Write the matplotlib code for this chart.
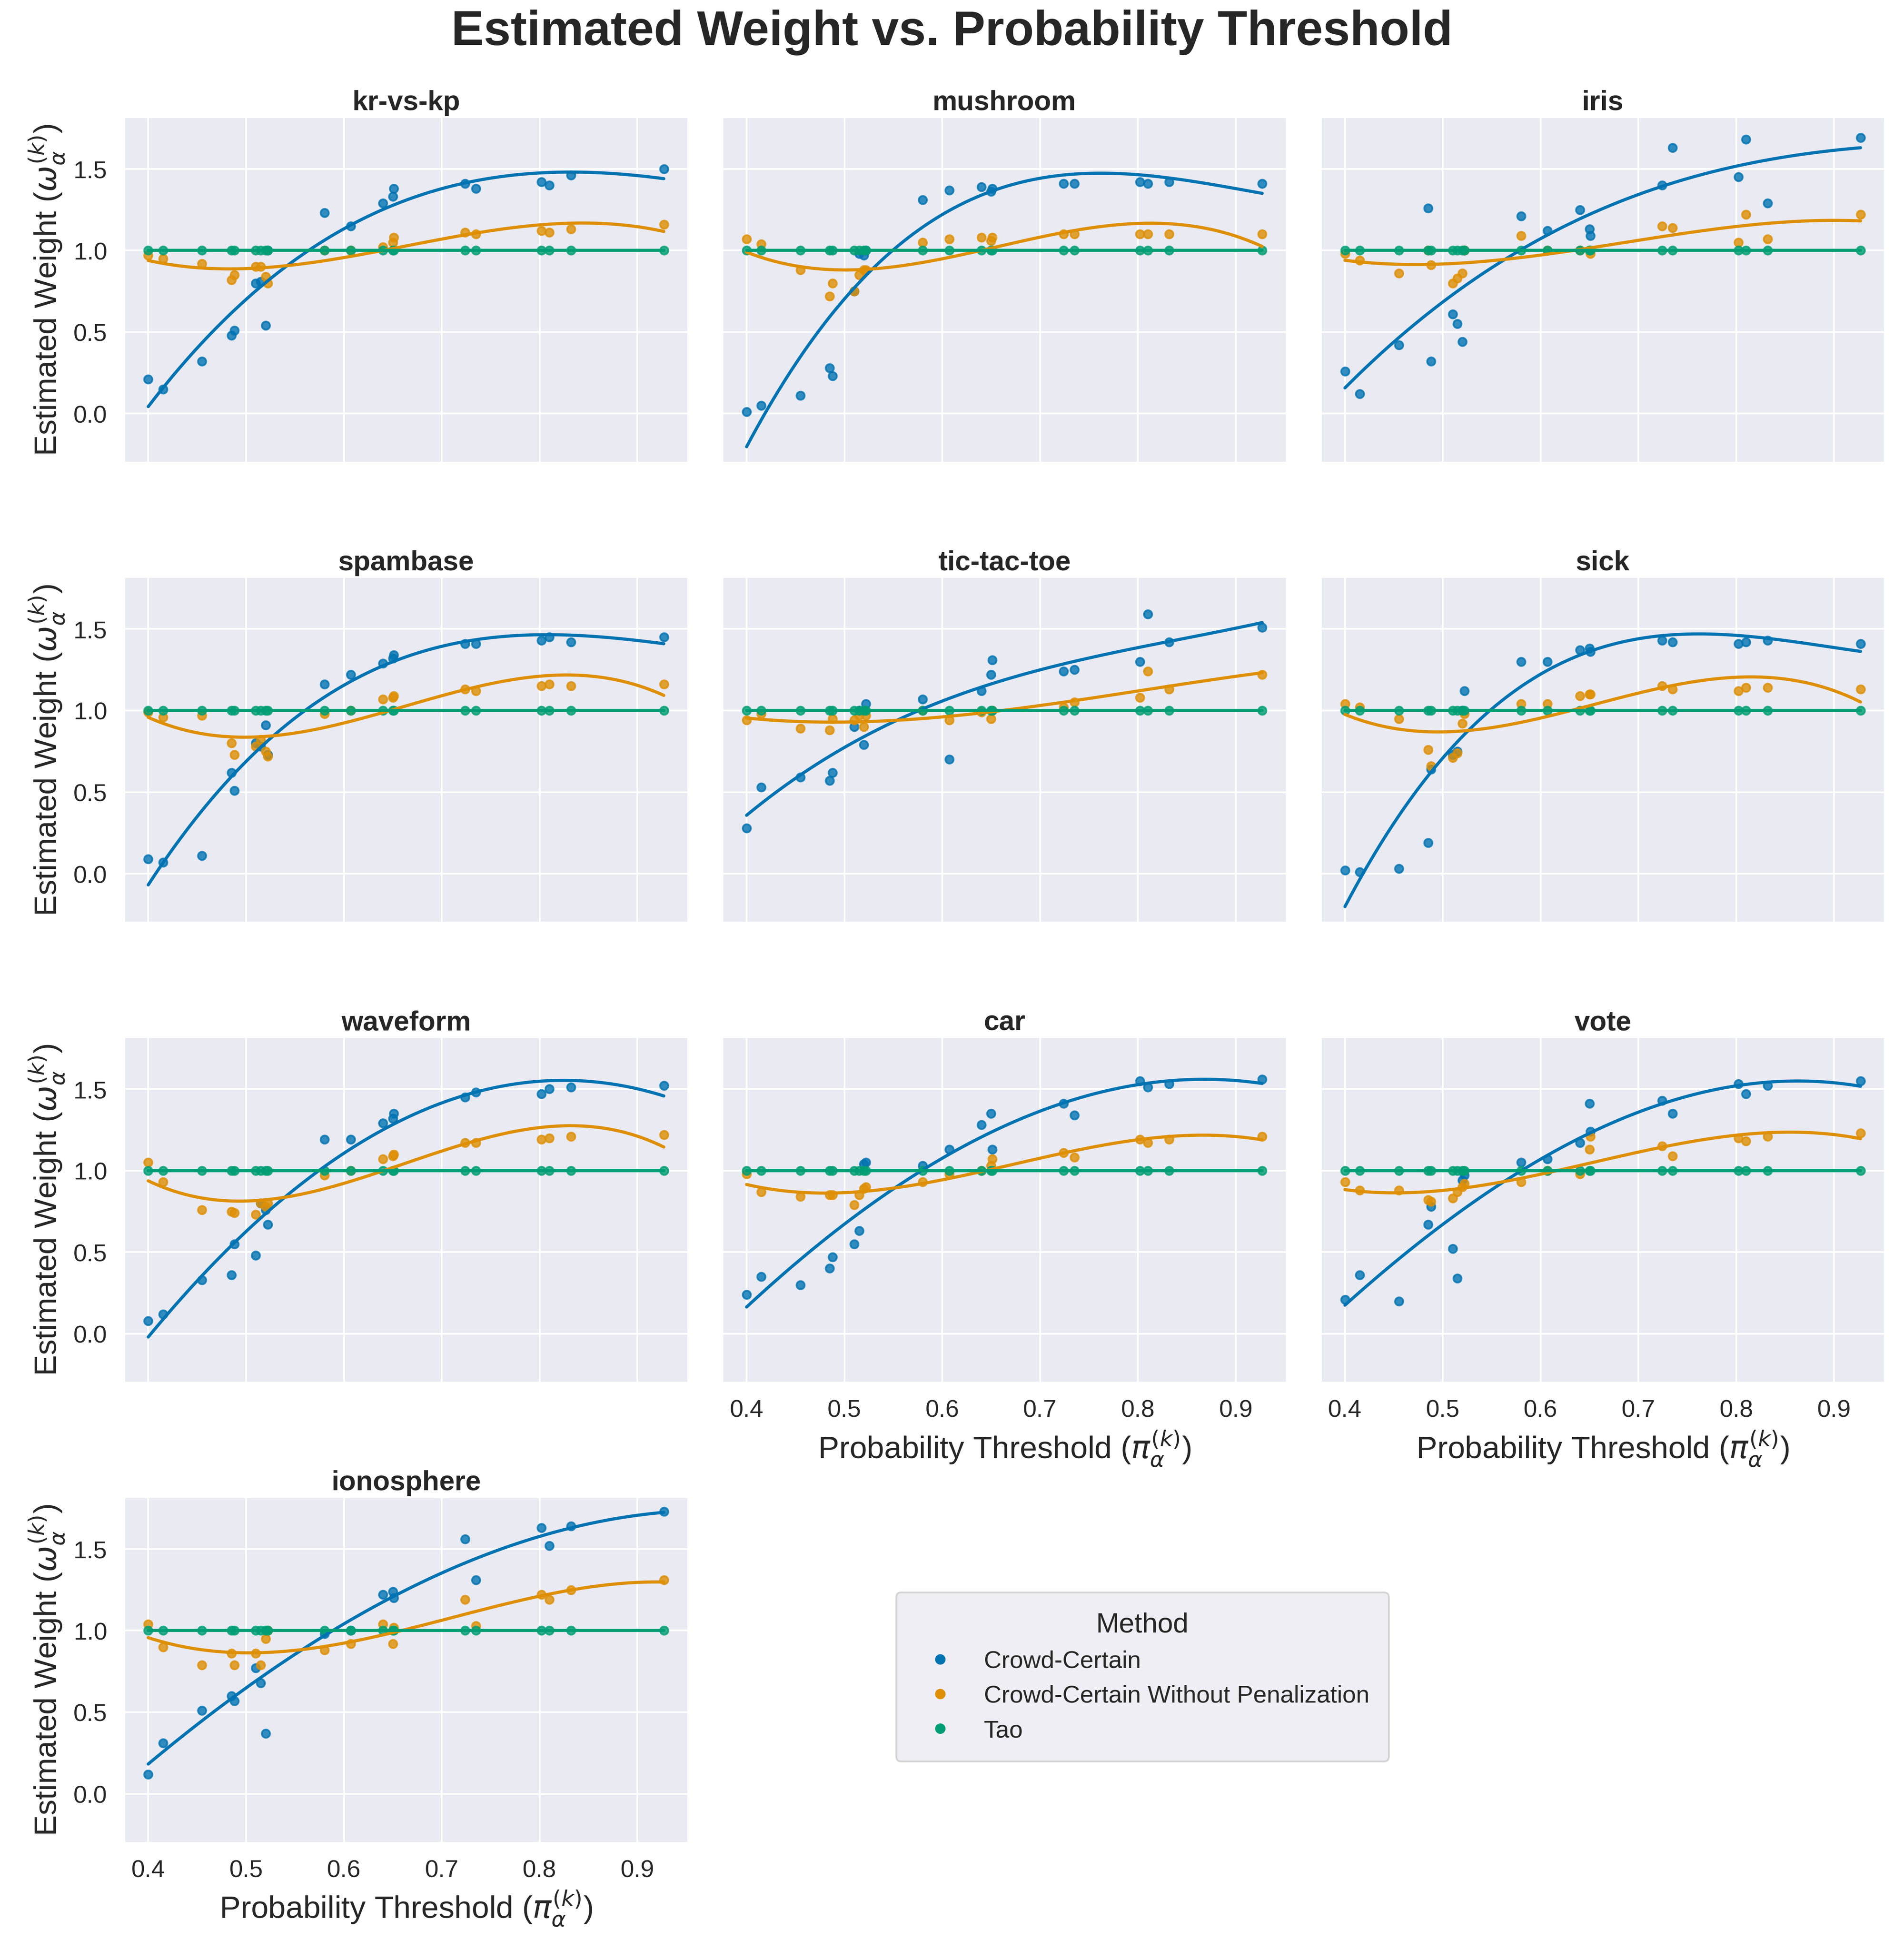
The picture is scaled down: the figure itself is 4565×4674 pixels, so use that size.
import matplotlib
matplotlib.use("Agg")
import matplotlib.pyplot as plt
import seaborn as sns
import numpy as np

x = [0.400, 0.415, 0.455, 0.485, 0.488, 0.510, 0.515, 0.520, 0.522, 0.580,
     0.607, 0.640, 0.650, 0.651, 0.724, 0.735, 0.802, 0.810, 0.832, 0.927]

datasets = ["kr-vs-kp", "mushroom", "iris", "spambase", "tic-tac-toe", "sick",
            "waveform", "car", "vote", "ionosphere"]

cc = {
 "kr-vs-kp": [0.21,0.15,0.32,0.48,0.51,0.80,0.81,0.54,1.0,1.23,1.15,1.29,1.33,1.38,1.41,1.38,1.42,1.40,1.46,1.50],
 "mushroom": [0.01,0.05,0.11,0.28,0.23,0.75,0.98,0.97,1.0,1.31,1.37,1.39,1.36,1.38,1.41,1.41,1.42,1.41,1.42,1.41],
 "iris": [0.26,0.12,0.42,1.26,0.32,0.61,0.55,0.44,1.0,1.21,1.12,1.25,1.13,1.09,1.40,1.63,1.45,1.68,1.29,1.69],
 "spambase": [0.09,0.07,0.11,0.62,0.51,0.80,0.78,0.91,0.73,1.16,1.22,1.29,1.32,1.34,1.41,1.41,1.43,1.45,1.42,1.45],
 "tic-tac-toe": [0.28,0.53,0.59,0.57,0.62,0.90,1.0,0.79,1.04,1.07,0.70,1.12,1.22,1.31,1.24,1.25,1.30,1.59,1.42,1.51],
 "sick": [0.02,0.01,0.03,0.19,0.64,0.73,0.75,1.0,1.12,1.30,1.30,1.37,1.38,1.36,1.43,1.42,1.41,1.42,1.43,1.41],
 "waveform": [0.08,0.12,0.33,0.36,0.55,0.48,0.80,0.76,0.67,1.19,1.19,1.29,1.32,1.35,1.45,1.48,1.47,1.50,1.51,1.52],
 "car": [0.24,0.35,0.30,0.40,0.47,0.55,0.63,1.04,1.05,1.03,1.13,1.28,1.35,1.13,1.41,1.34,1.55,1.51,1.53,1.56],
 "vote": [0.21,0.36,0.20,0.67,0.78,0.52,0.34,0.94,0.97,1.05,1.07,1.17,1.41,1.24,1.43,1.35,1.53,1.47,1.52,1.55],
 "ionosphere": [0.12,0.31,0.51,0.60,0.57,0.77,0.68,0.37,1.0,0.98,1.0,1.22,1.24,1.20,1.56,1.31,1.63,1.52,1.64,1.73],
}
wp = {
 "kr-vs-kp": [0.97,0.95,0.92,0.82,0.85,0.90,0.90,0.84,0.80,1.0,1.0,1.02,1.05,1.08,1.11,1.10,1.12,1.11,1.13,1.16],
 "mushroom": [1.07,1.04,0.88,0.72,0.80,0.75,0.85,0.88,0.88,1.05,1.07,1.08,1.06,1.08,1.10,1.10,1.10,1.10,1.10,1.10],
 "iris": [0.98,0.94,0.86,1.0,0.91,0.80,0.83,0.86,1.0,1.09,1.0,1.0,1.0,0.98,1.15,1.14,1.05,1.22,1.07,1.22],
 "spambase": [0.99,0.96,0.97,0.80,0.73,0.78,0.82,0.75,0.72,0.98,1.0,1.07,1.08,1.09,1.13,1.12,1.15,1.16,1.15,1.16],
 "tic-tac-toe": [0.94,0.98,0.89,0.88,0.95,0.94,0.97,0.90,0.97,1.0,0.94,0.99,0.95,1.0,1.02,1.05,1.08,1.24,1.13,1.22],
 "sick": [1.04,1.02,0.95,0.76,0.66,0.71,0.74,0.92,0.98,1.04,1.04,1.09,1.10,1.10,1.15,1.13,1.12,1.14,1.14,1.13],
 "waveform": [1.05,0.93,0.76,0.75,0.74,0.73,0.80,0.78,0.80,0.97,1.0,1.07,1.09,1.10,1.17,1.17,1.19,1.20,1.21,1.22],
 "car": [0.98,0.87,0.84,0.85,0.85,0.79,0.85,0.89,0.90,0.93,0.98,1.0,1.03,1.07,1.11,1.08,1.19,1.17,1.19,1.21],
 "vote": [0.93,0.88,0.88,0.82,0.81,0.83,0.87,0.90,0.92,0.93,1.0,0.98,1.13,1.21,1.15,1.09,1.20,1.18,1.21,1.23],
 "ionosphere": [1.04,0.90,0.79,0.86,0.79,0.86,0.79,0.95,1.0,0.88,0.92,1.04,0.92,1.02,1.19,1.03,1.22,1.19,1.25,1.31],
}
tao = {d: [1.0] * len(x) for d in datasets}

methods = ["Crowd-Certain", "Crowd-Certain Without Penalization", "Tao"]
colors = ["#0173B2", "#DE8F05", "#029E73"]

sns.set_theme(style="darkgrid")
plt.rcParams['font.family'] = ['Liberation Sans', 'DejaVu Sans']

fig, axes = plt.subplots(4, 3, figsize=(15.217, 15.583), dpi=300, sharex=True, sharey=True)
xa = np.array(x)
for i, d in enumerate(datasets):
    ax = axes[i // 3][i % 3]
    for m, vals, c in zip(methods, [cc[d], wp[d], tao[d]], colors):
        sns.regplot(x=xa, y=np.array(vals), order=3, ci=None, ax=ax, color=c,
                    scatter_kws=dict(s=22), line_kws=dict(lw=1.8), truncate=True, label=m)
    ax.set_title(d, fontsize=16, fontweight="bold", pad=4)
    ax.set_xlabel("")
    ax.set_ylabel("")
    ax.tick_params(labelsize=14)
axes[3][1].remove()
axes[3][2].remove()
ax = axes[0][0]
ax.set_ylim(-0.3, 1.82)
ax.set_xlim(0.375, 0.952)
ax.set_xticks([0.4, 0.5, 0.6, 0.7, 0.8, 0.9])
ax.set_yticks([0.0, 0.5, 1.0, 1.5])
xl = r"Probability Threshold ($\pi_{\alpha}^{(k)}$)"
yl = r"Estimated Weight ($\omega_{\alpha}^{(k)}$)"
for a in [axes[2][1], axes[2][2], axes[3][0]]:
    a.xaxis.set_tick_params(labelbottom=True)
    a.set_xlabel(xl, fontsize=18)
for r in range(4):
    axes[r][0].set_ylabel(yl, fontsize=18)

handles, labels = axes[0][0].get_legend_handles_labels()
h = [hh for hh, ll in zip(handles, labels) if ll in methods][:3]
fig.legend(handles=[plt.Line2D([], [], marker='o', ls='', color=c, markersize=5) for c in colors],
           labels=methods, title="Method", loc="center", bbox_to_anchor=(0.6, 0.14),
           fontsize=14, title_fontsize=16, frameon=True, borderpad=0.8)
fig.suptitle("Estimated Weight vs. Probability Threshold", fontsize=28, fontweight="bold", y=0.995)
fig.subplots_adjust(left=0.065, right=0.99, top=0.94, bottom=0.055, hspace=0.33, wspace=0.06)
fig.savefig("out.png", dpi=300)
